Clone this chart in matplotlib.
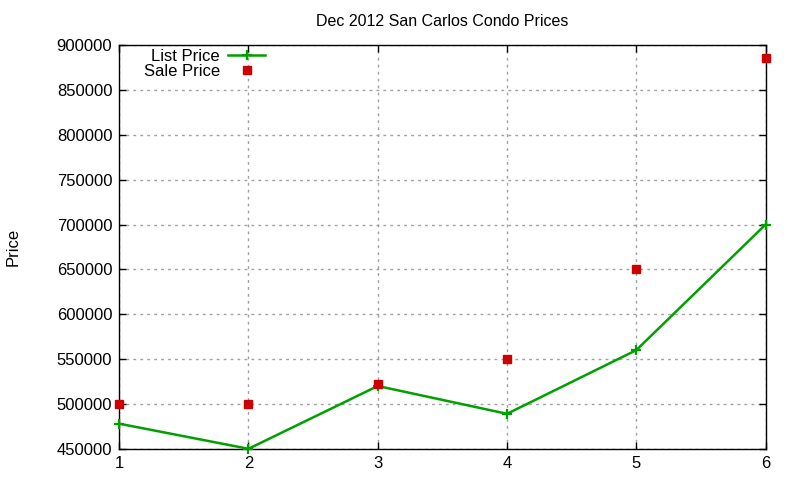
import matplotlib
matplotlib.use("Agg")
import matplotlib.pyplot as plt

x = [1, 2, 3, 4, 5, 6]
list_price = [478000, 450000, 520000, 489000, 560000, 700000]
sale_price = [500000, 500000, 522000, 550000, 650000, 886000]
yticks = [450000, 500000, 550000, 600000, 650000, 700000, 750000, 800000, 850000, 900000]

plt.rcParams['font.family'] = ['Liberation Sans', 'DejaVu Sans']

fig = plt.figure(figsize=(8, 4.8), dpi=100)
ax = fig.add_axes([0.149, 0.065, 0.808, 0.841])

ax.plot(x, list_price, color='#00a000', lw=1.8, marker='+', ms=7, mew=1.6,
        label='List Price', clip_on=False, zorder=3)
ax.plot(x, sale_price, ls='none', color='#cc0000', marker='s', ms=6,
        label='Sale Price', clip_on=False, zorder=4)

ax.set_xlim(1, 6)
ax.set_ylim(450000, 900000)
ax.set_xticks(x)
ax.set_yticks(yticks)
ax.set_yticklabels([str(v) for v in yticks])
ax.tick_params(direction='in', top=True, right=True, labelsize=12, length=5, width=1, pad=5)
ax.grid(True, color='#a0a0a0', linestyle=(0, (2, 3)), linewidth=1)
for s in ax.spines.values():
    s.set_linewidth(1)

ax.set_title('Dec 2012 San Carlos Condo Prices', fontsize=11.5, pad=14)
fig.text(0.016, 0.485, 'Price', rotation=90, fontsize=12, va='center', ha='center')

leg = ax.legend(loc='upper left', bbox_to_anchor=(0.02, 1.02), frameon=False, markerfirst=False,
                fontsize=12, handlelength=2.2, handletextpad=0.5, labelspacing=0.0, borderpad=0.2)
for t in leg.get_texts():
    t.set_ha('right')

fig.savefig('out.png', dpi=100)
